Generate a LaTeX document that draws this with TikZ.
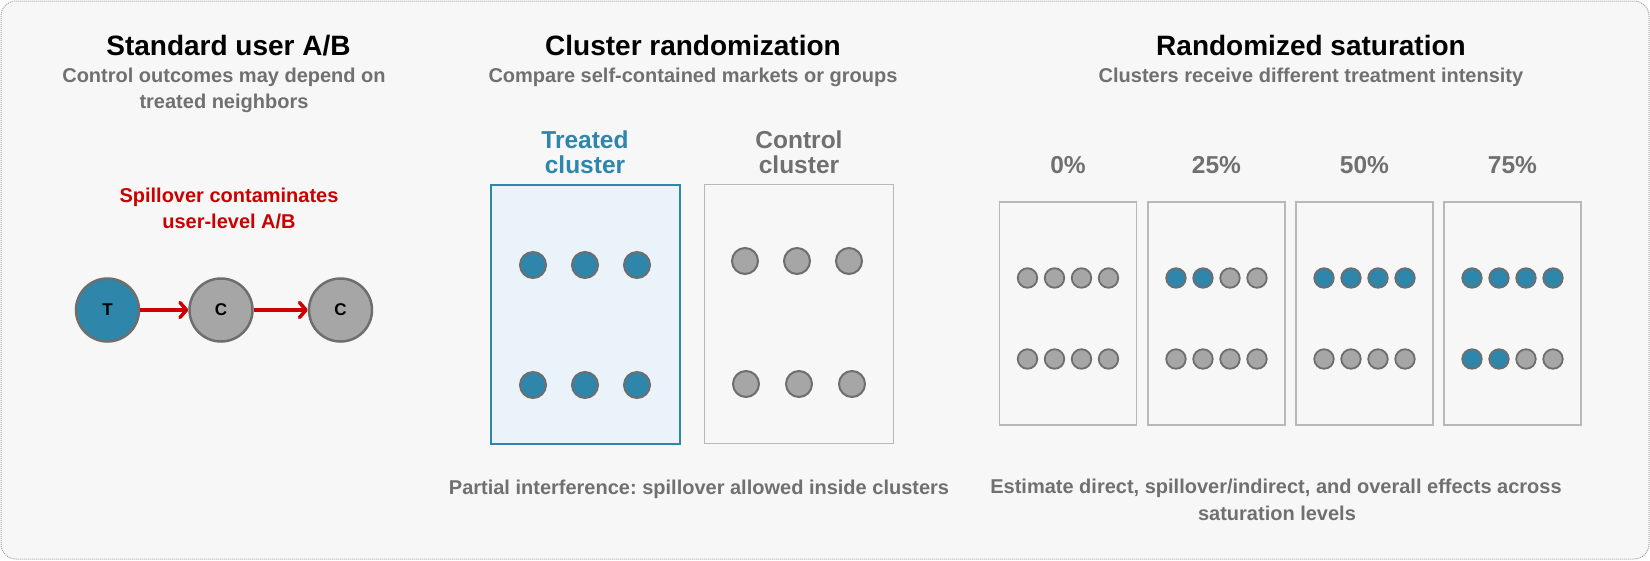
\documentclass[tikz,border=0pt]{standalone}
\usepackage{fontspec}
\setmainfont{Liberation Sans}
\usetikzlibrary{arrows.meta}
\frenchspacing
\definecolor{tblue}{HTML}{2E86AB}
\definecolor{dgray}{HTML}{A6A6A6}
\definecolor{dstroke}{HTML}{6E6E6E}
\definecolor{subgray}{HTML}{707070}
\definecolor{boxgray}{HTML}{B8B8B8}
\definecolor{bgfill}{HTML}{F7F7F7}
\definecolor{framegray}{HTML}{A0A0A0}
\definecolor{tfill}{HTML}{EAF3FA}
\definecolor{spred}{HTML}{CC0000}
\begin{document}
\begin{tikzpicture}[x=1pt,y=-1pt,
  ttl/.style={anchor=base, inner sep=0, text=black, font=\fontsize{28}{32}\selectfont\bfseries},
  sub/.style={anchor=base, inner sep=0, text=subgray, font=\fontsize{20}{24}\selectfont\bfseries},
  redtxt/.style={anchor=base, inner sep=0, text=spred, font=\fontsize{20}{24}\selectfont\bfseries},
  clab/.style={anchor=base, inner sep=0, font=\fontsize{24.5}{28}\selectfont\bfseries},
  bigdot/.style={circle, draw=dstroke, line width=2.5pt, minimum size=63pt, inner sep=0, text=black, font=\fontsize{17}{19}\selectfont\bfseries},
  middot/.style={circle, draw=dstroke, line width=2pt, minimum size=26pt, inner sep=0},
  smalldot/.style={circle, draw=dstroke, line width=1.8pt, minimum size=19.5pt, inner sep=0},
  spill/.style={draw=spred, line width=3.5pt, -{Straight Barb[length=6.5pt,width=15pt,line cap=round,line join=round]}},
  satbox/.style={rectangle, draw=boxgray, line width=1.5pt, minimum width=137pt, minimum height=223pt, inner sep=0},
  clbox/.style={rectangle, line width=2pt, minimum width=189pt, minimum height=259pt, inner sep=0}]
\useasboundingbox (0,0) rectangle (1650,560);
\draw[draw=framegray, line width=1pt, dash pattern=on 1pt off 1pt, fill=bgfill, rounded corners=15pt] (1,1) rectangle (1649,559);

% ---- left panel
\node[ttl] (t1) at (228.5,55) {Standard user A/B};
\node[sub] (s1a) at (224,82.5) {Control outcomes may depend on};
\node[sub] (s1b) at (224,108.5) {treated neighbors};
\node[redtxt] (r1) at (229,202) {Spillover contaminates};
\node[redtxt] (r2) at (229,228) {user-level A/B};
\node[bigdot, fill=tblue] (nt) at (107.5,310) {T};
\node[bigdot, fill=dgray] (nc1) at (221,310) {C};
\node[bigdot, fill=dgray] (nc2) at (340.5,310) {C};
\draw[spill] (nt) -- (nc1);
\draw[spill] (nc1) -- (nc2);

% ---- middle panel
\node[ttl] (t2) at (693,55) {Cluster randomization};
\node[sub] (s2) at (693,82.5) {Compare self-contained markets or groups};
\node[clab, text=tblue] (tl1) at (585,148) {Treated};
\node[clab, text=tblue] (tl2) at (585,173) {cluster};
\node[clab, text=subgray] (cl1) at (799,148) {Control};
\node[clab, text=subgray] (cl2) at (799,173) {cluster};
\node[clbox, draw=tblue, fill=tfill] (tbox) at (585,314) {};
\node[clbox, draw=boxgray, line width=1.5pt] (cbox) at (799,314) {};
\foreach \x [count=\i] in {533,585,637}{
  \node[middot, fill=tblue] (ta\i) at (\x,265) {};
  \node[middot, fill=tblue] (tb\i) at (\x,385) {};
}
\foreach \x [count=\i] in {745,797,849}{
  \node[middot, fill=dgray] (ca\i) at (\x,261) {};
}
\foreach \x [count=\i] in {746,799,852}{
  \node[middot, fill=dgray] (cb\i) at (\x,384) {};
}
\node[sub] (b2) at (699,494) {Partial interference: spillover allowed inside clusters};

% ---- right panel
\node[ttl] (t3) at (1311,55) {Randomized saturation};
\node[sub] (s3) at (1311,82.5) {Clusters receive different treatment intensity};
\foreach \b/\cx/\na/\nb/\lab in {1/1068/0/0/0\%, 2/1216.5/2/0/25\%, 3/1364.5/4/0/50\%, 4/1512.5/4/2/75\%}{
  \node[clab, text=subgray] (p\b) at (\cx,173.5) {\lab};
  \node[satbox] (sb\b) at (\cx,313.5) {};
  \foreach \k/\dx in {1/-40.5,2/-13.5,3/13.5,4/40.5}{
    \ifnum\k>\na\def\colA{dgray}\else\def\colA{tblue}\fi
    \ifnum\k>\nb\def\colB{dgray}\else\def\colB{tblue}\fi
    \node[smalldot, fill=\colA] (d\b a\k) at (\cx+\dx,278) {};
    \node[smalldot, fill=\colB] (d\b b\k) at (\cx+\dx,359) {};
  }
}
\node[sub] (b3a) at (1276,493.5) {Estimate direct, spillover/indirect, and overall effects across};
\node[sub] (b3b) at (1277,520) {saturation levels};
\end{tikzpicture}
\end{document}
